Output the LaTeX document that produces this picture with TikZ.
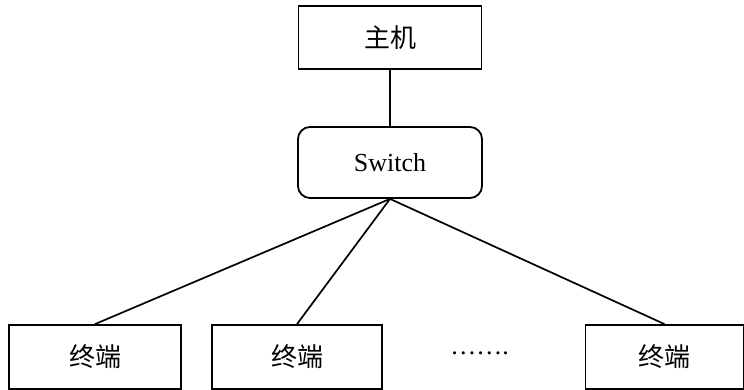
\documentclass[tikz,border=0pt]{standalone}
\usepackage{fontspec}
\setmainfont{Liberation Serif}
\newfontfamily\cjk{Noto Sans CJK SC}
\begin{document}
\begin{tikzpicture}[x=1pt,y=-1pt,
  box/.style={draw=black, line width=1.8pt, inner sep=0pt, font=\fontsize{26}{30}\selectfont},
  conn/.style={line width=1.7pt}]
\useasboundingbox (0,0) rectangle (744,390);
\node[box, minimum width=183pt, minimum height=63pt] (host) at (390,37.5) {\cjk 主机};
\node[box, rounded corners=12pt, minimum width=184pt, minimum height=71pt] (sw) at (390,162.5) {Switch};
\node[box, minimum width=172pt, minimum height=64pt] (t1) at (95,357) {\cjk 终端};
\node[box, minimum width=170pt, minimum height=64pt] (t2) at (297,357) {\cjk 终端};
\node[box, minimum width=158pt, minimum height=64pt] (t3) at (664.5,357) {\cjk 终端};
\node[font=\fontsize{26}{30}\selectfont, inner sep=0pt] (dots) at (479.5,353) {…….};
\draw[conn] (host.south) -- (sw.north);
\draw[conn] (sw.south) -- (t1.north);
\draw[conn] (sw.south) -- (t2.north);
\draw[conn] (sw.south) -- (t3.north);
\end{tikzpicture}
\end{document}
